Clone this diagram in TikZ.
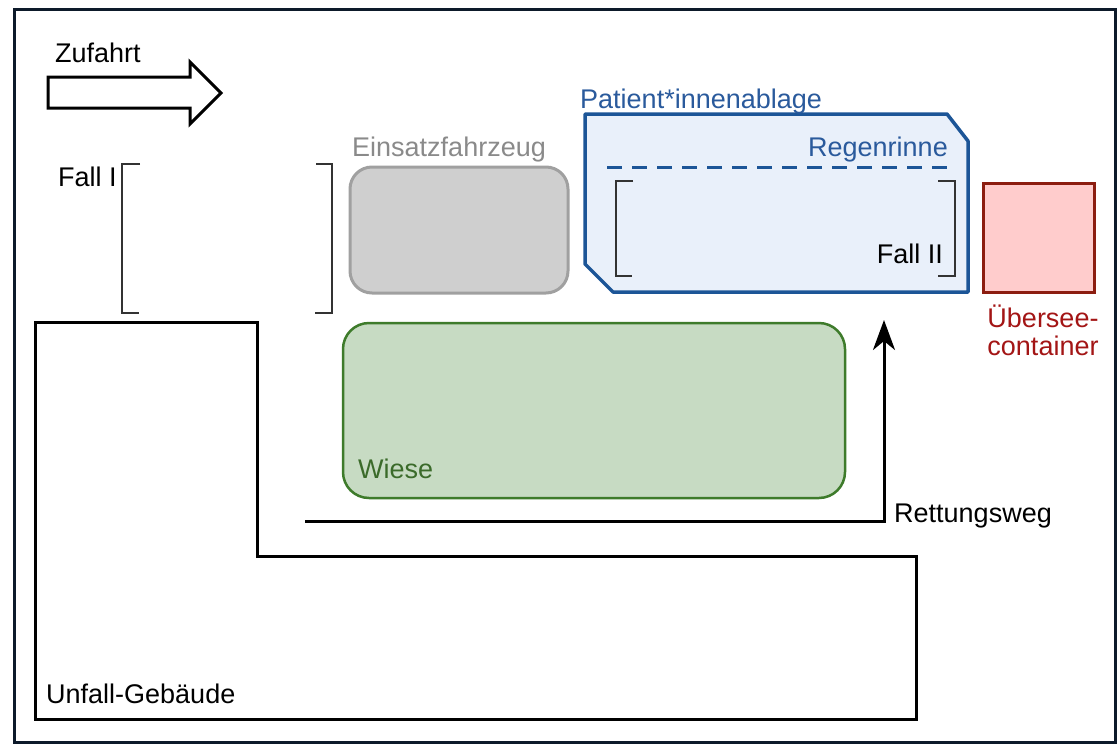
\documentclass[tikz,border=0pt]{standalone}
\usepackage{fontspec}
\setmainfont{Liberation Sans}
\usetikzlibrary{arrows.meta}
\definecolor{framec}{HTML}{0D1A2A}
\definecolor{grayfill}{HTML}{CFCFCF}
\definecolor{graydraw}{HTML}{A0A0A0}
\definecolor{graytext}{HTML}{8A8A8A}
\definecolor{bluedraw}{HTML}{1C5597}
\definecolor{bluefill}{HTML}{E9F0FA}
\definecolor{bluetext}{HTML}{2A5A9C}
\definecolor{redfill}{HTML}{FFCCCC}
\definecolor{reddraw}{HTML}{8C1D10}
\definecolor{redtext}{HTML}{A31515}
\definecolor{greenfill}{HTML}{C7DBC3}
\definecolor{greendraw}{HTML}{3E7B2B}
\definecolor{greentext}{HTML}{3B6B2A}
\definecolor{brackc}{HTML}{333333}
\tikzset{
  lbl/.style={inner sep=0pt, font=\fontsize{27}{31}\selectfont, anchor=base west},
  lblr/.style={lbl, anchor=base east},
  brack/.style={draw=brackc, line width=2pt},
  area/.style={line width=3pt, rounded corners=22pt, inner sep=0pt}
}
\begin{document}
\begin{tikzpicture}[x=1pt,y=-1pt]
\useasboundingbox (0,0) rectangle (1120,745);
% outer frame
\draw[framec, line width=3pt] (14,9) rectangle (1115,742);
% Zufahrt arrow
\draw[black, line width=3pt, line join=miter, fill=white]
  (48,77) -- (190,77) -- (190,62) -- (221,93) -- (190,124) -- (190,108) -- (48,108) -- cycle;
\node[lbl] (zuf) at (55,62) {Zufahrt};
% Fall I brackets
\draw[brack] (140,164) -- (122,164) -- (122,313) -- (139,313);
\draw[brack] (316,164) -- (332,164) -- (332,313) -- (315,313);
\node[lbl] (fall1) at (58,186) {Fall I};
% Einsatzfahrzeug
\node[area, draw=graydraw, fill=grayfill, minimum width=218pt, minimum height=126pt] (ez) at (459,230) {};
\node[lbl, text=graytext] (ezl) at (352,156) {Einsatzfahrzeug};
% Patient*innenablage
\draw[bluedraw, fill=bluefill, line width=3.5pt, line join=round]
  (585,114) -- (947,114) -- (968,141) -- (968,292) -- (613,292) -- (585,264) -- cycle;
\node[lbl, text=bluetext] (pal) at (580,108) {Patient*innenablage};
\node[lblr, text=bluetext] (rr) at (948,156) {Regenrinne};
\draw[bluedraw, line width=3pt, dash pattern=on 15pt off 10pt] (607,167) -- (952,167);
% Fall II brackets
\draw[brack] (633,181) -- (616,181) -- (616,276) -- (632,276);
\draw[brack] (938,181) -- (955,181) -- (955,276) -- (938,276);
\node[lblr] (fall2) at (943,263) {Fall II};
% Container
\node[draw=reddraw, fill=redfill, line width=3.5pt, inner sep=0pt, minimum width=111pt, minimum height=109pt] (cont) at (1039,238) {};
\node[inner sep=0pt, font=\fontsize{27}{28}\selectfont, text=redtext, align=center, anchor=north] (contl) at (1043,305) {Übersee-\\container};
% Wiese
\node[area, draw=greendraw, fill=greenfill, line width=2.5pt, rounded corners=26pt, minimum width=502pt, minimum height=175pt] (wiese) at (594,410.5) {};
\node[lbl, text=greentext] (wl) at (358,478) {Wiese};
% Unfall-Gebaeude
\draw[black, line width=3pt] (35,322) -- (257,322) -- (257,556) -- (916,556) -- (916,719) -- (35,719) -- cycle;
\node[lbl] (geb) at (46,703) {Unfall-Gebäude};
% Rettungsweg
\coordinate (rs) at (305,521);
\coordinate (rc) at (884,521);
\coordinate (re) at (884,320);
\draw[black, line width=3pt, -{Stealth[length=30pt,width=22pt,inset=9pt]}] (rs) -- (rc) -- (re);
\node[lbl] (rw) at (894,522) {Rettungsweg};
\end{tikzpicture}
\end{document}
